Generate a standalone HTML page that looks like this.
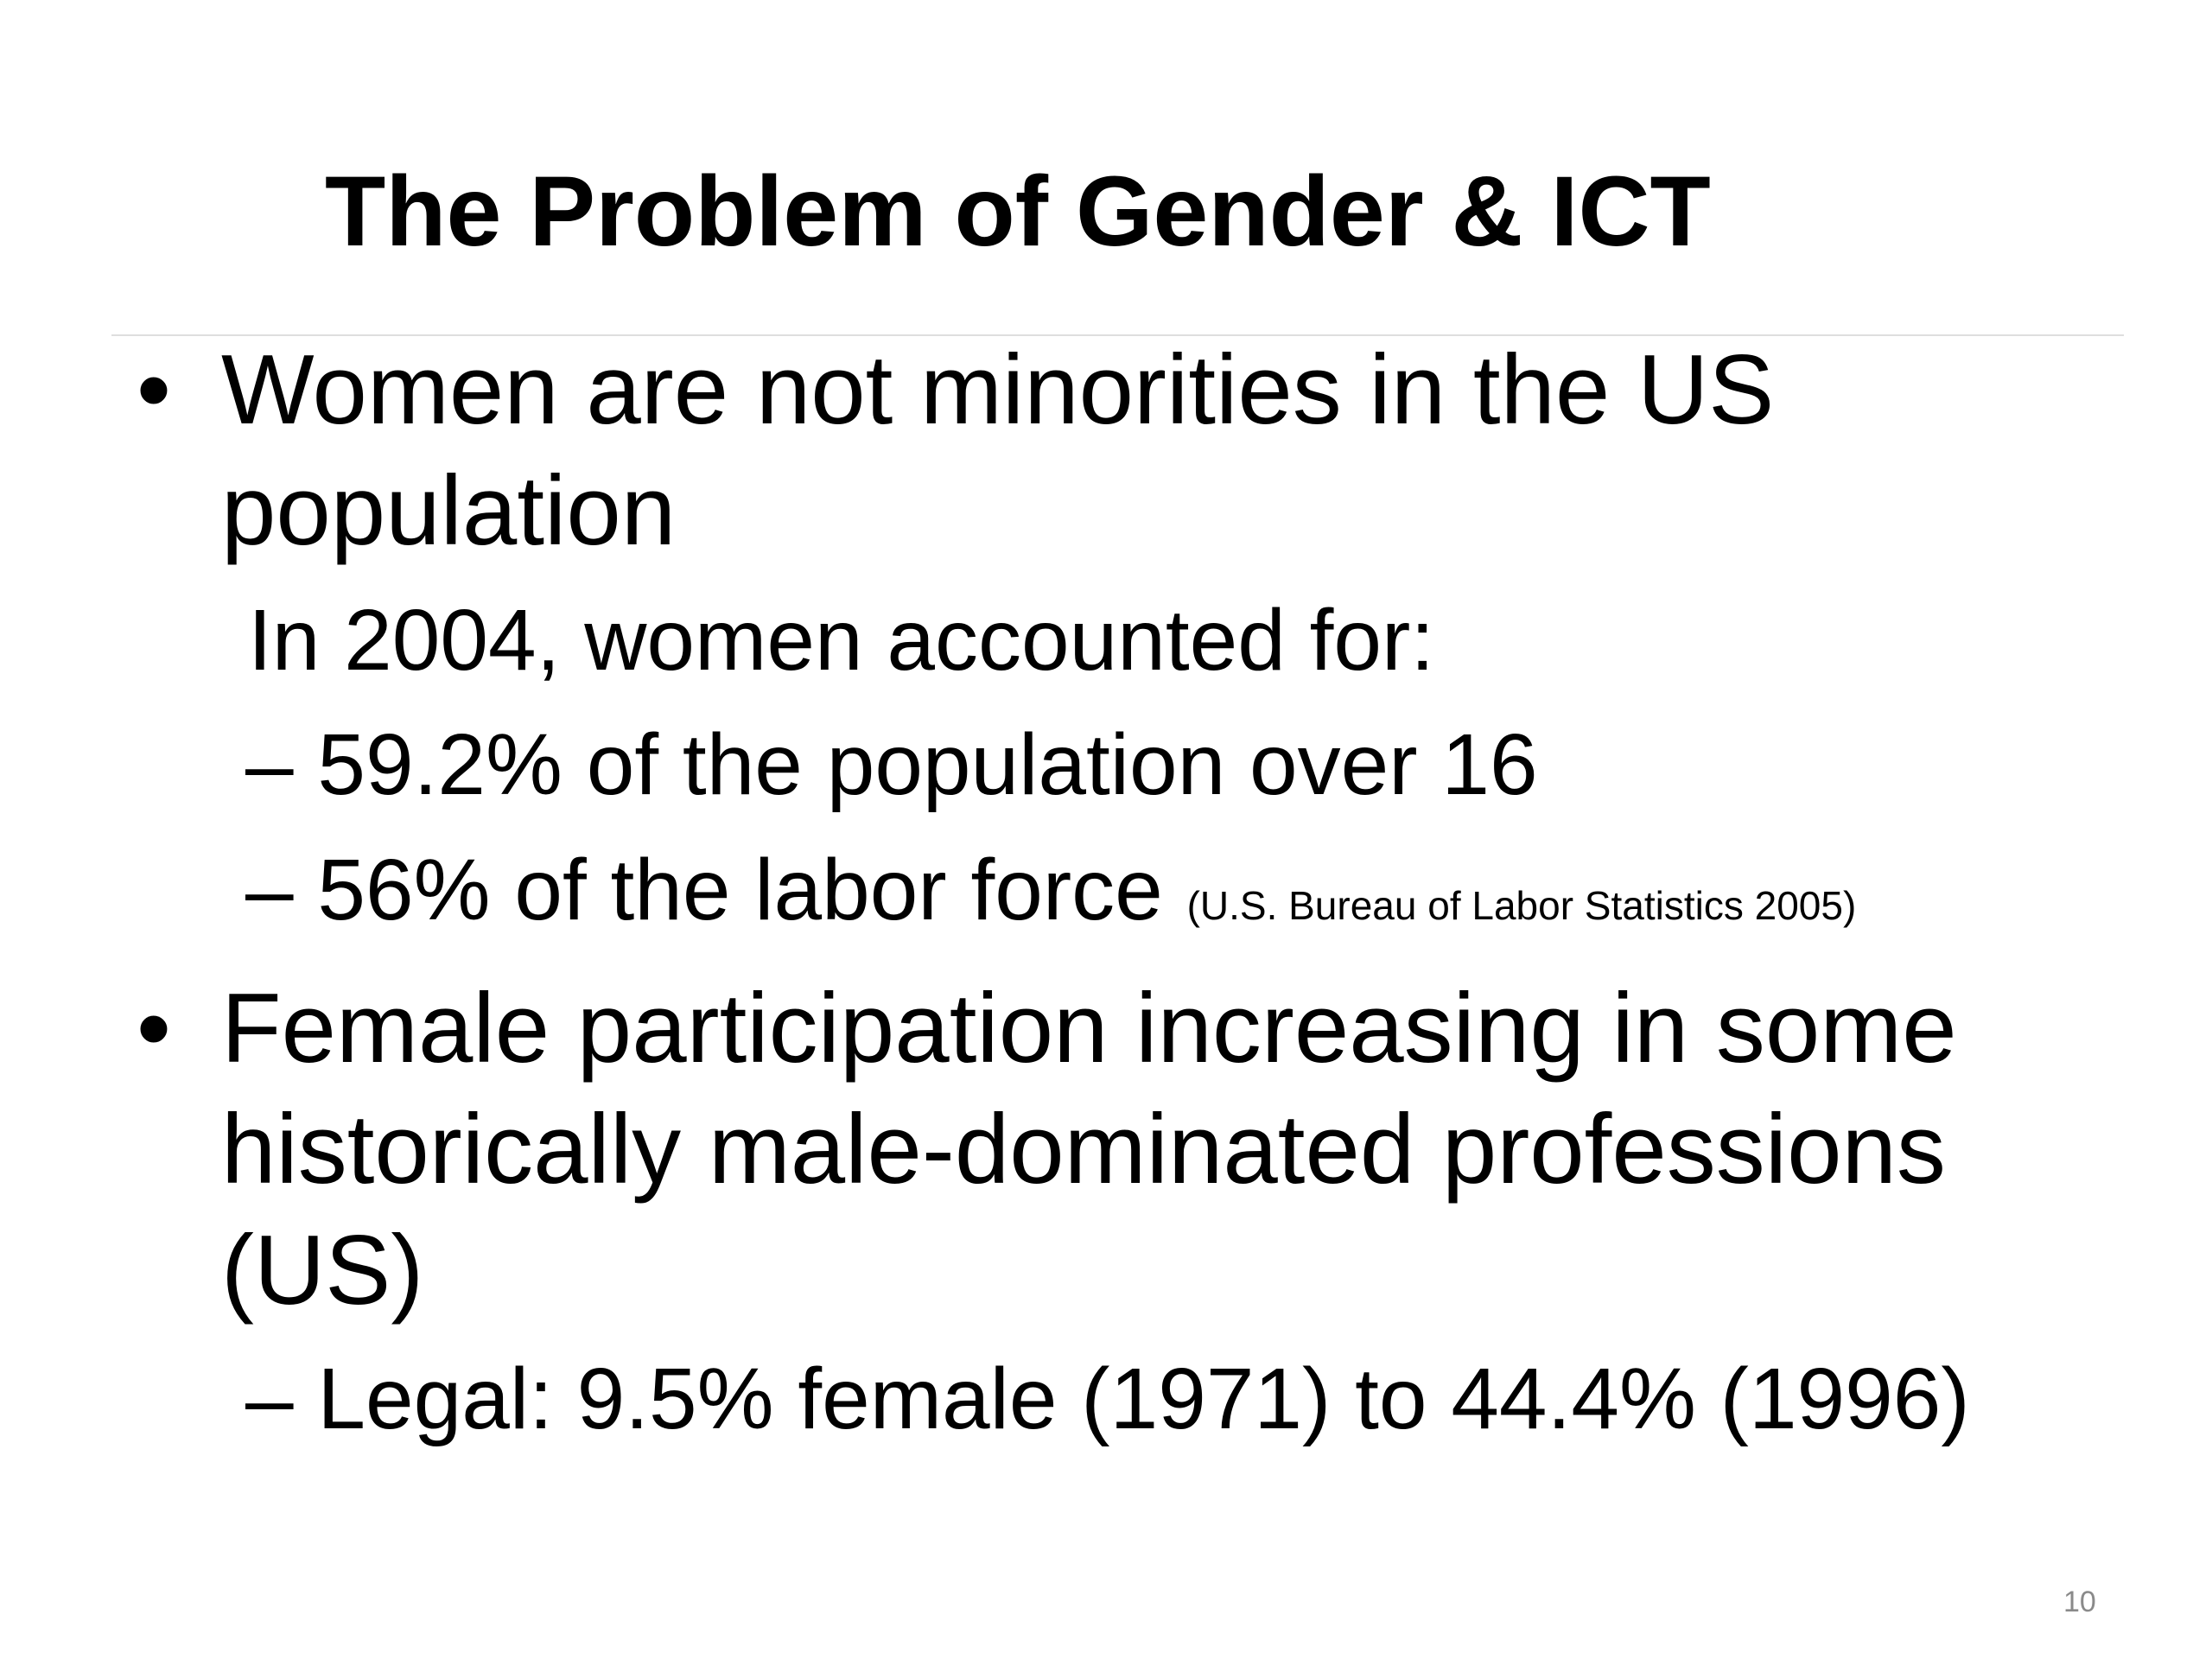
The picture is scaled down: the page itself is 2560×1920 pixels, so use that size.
<!DOCTYPE html>
<html><head><meta charset="utf-8"><style>
html,body{margin:0;padding:0;background:#fff;}
svg{display:block;font-family:"Liberation Sans",Arial,sans-serif;}
</style></head><body>
<svg width="2560" height="1920" viewBox="0 0 2560 1920">
<rect width="2560" height="1920" fill="#fff"/>
<text x="376" y="284" font-size="115" font-weight="bold" fill="#000">The Problem of Gender &amp; ICT</text>
<line x1="129" y1="388" x2="2458" y2="388" stroke="#dedede" stroke-width="2"/>
<text x="158" y="490" font-size="114">•</text>
<text x="256" y="490" font-size="114">Women are not minorities in the US</text>
<text x="256" y="630" font-size="114">population</text>
<text x="287" y="775" font-size="100">In 2004, women accounted for:</text>
<text x="284" y="919" font-size="100">– 59.2% of the population over 16</text>
<text x="284" y="1064" font-size="100">– 56% of the labor force <tspan font-size="46">(U.S. Bureau of Labor Statistics 2005)</tspan></text>
<text x="158" y="1229" font-size="114">•</text>
<text x="256" y="1229" font-size="114">Female participation increasing in some</text>
<text x="256" y="1369" font-size="114">historically male-dominated professions</text>
<text x="256" y="1509" font-size="114">(US)</text>
<text x="284" y="1653" font-size="100">– Legal: 9.5% female (1971) to 44.4% (1996)</text>
<text x="2388" y="1865" font-size="34" fill="#8a8a8a">10</text>
</svg>
</body></html>
